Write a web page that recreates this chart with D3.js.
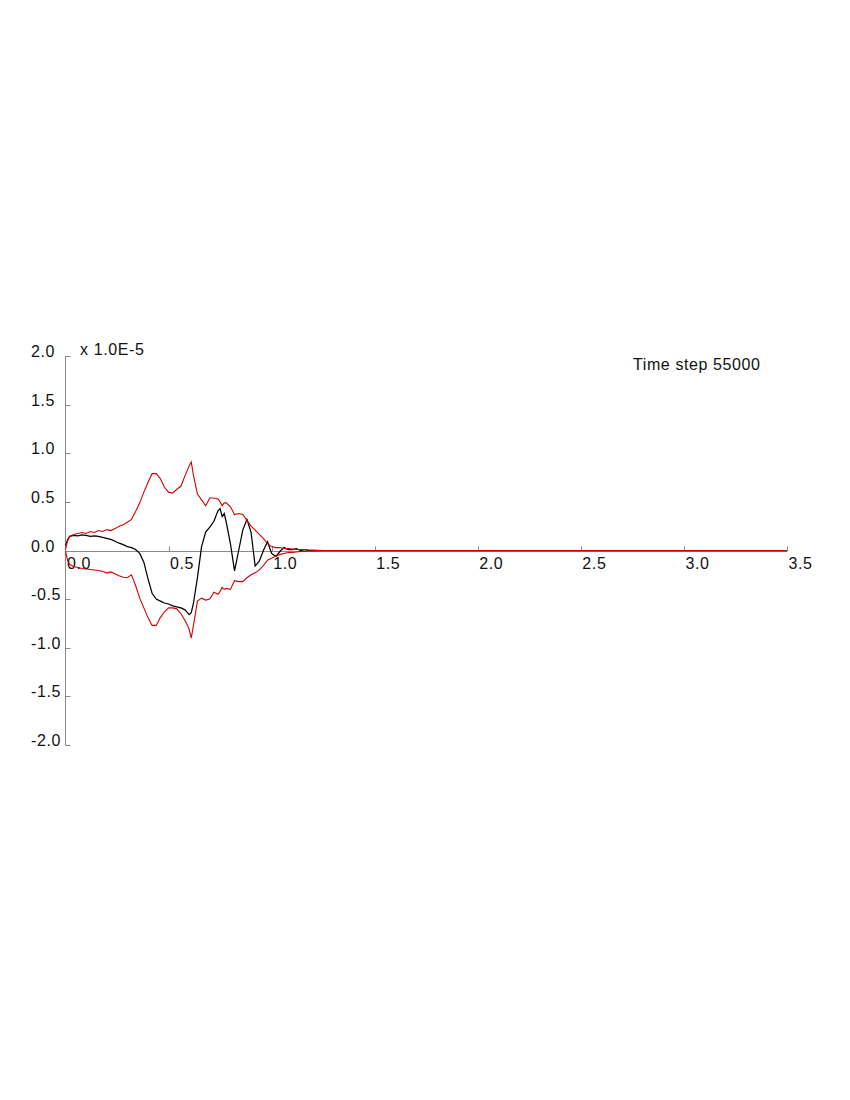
<!DOCTYPE html>
<html>
<head>
<meta charset="utf-8">
<script src="https://cdn.jsdelivr.net/npm/d3@7"></script>
<style>
  html, body { margin: 0; padding: 0; background: #fff; }
  svg { display: block; }
  text { font-family: "Liberation Sans", Arial, sans-serif; font-size: 16px; fill: #111; letter-spacing: 0.6px; }
</style>
</head>
<body>
<svg id="chart" width="850" height="1100"></svg>
<script>
// ---- data (values in units of 1.0E-5) ----
const xValues = [0.00, 0.01, 0.02, 0.04, 0.06, 0.08, 0.10, 0.12, 0.14, 0.16, 0.18, 0.20,
  0.22, 0.24, 0.26, 0.28, 0.30, 0.32, 0.34, 0.36, 0.38, 0.40, 0.42, 0.44, 0.46, 0.48,
  0.50, 0.52, 0.54, 0.56, 0.58, 0.60, 0.61, 0.62, 0.64, 0.66, 0.68, 0.70, 0.72, 0.74,
  0.75, 0.76, 0.77, 0.78, 0.80, 0.82, 0.84, 0.86, 0.88, 0.90, 0.92, 0.94, 0.96, 0.98,
  1.00, 1.02, 1.04, 1.06, 1.08, 1.10, 1.12, 1.14, 1.16, 1.18, 1.20, 1.25, 3.50];

const waveValues = [0.05, 0.11, 0.145, 0.155, 0.15, 0.16, 0.155, 0.145, 0.15, 0.145, 0.135, 0.125,
  0.115, 0.095, 0.075, 0.06, 0.04, 0.03, 0.01, -0.03, -0.12, -0.29, -0.44, -0.50, -0.52, -0.54,
  -0.55, -0.57, -0.58, -0.59, -0.61, -0.66, -0.64, -0.55, -0.28, 0.04, 0.19, 0.24, 0.30, 0.41,
  0.43, 0.35, 0.38, 0.29, 0.07, -0.21, 0.00, 0.21, 0.32, 0.19, -0.16, -0.11, 0.00, 0.09,
  -0.03, -0.06, -0.01, 0.03, 0.01, 0.01, 0.02, 0.00, 0.01, 0.00, 0.00, 0.00, 0.00];

const upperValues = [0.01, 0.10, 0.145, 0.165, 0.175, 0.185, 0.175, 0.195, 0.185, 0.205, 0.195, 0.215,
  0.205, 0.225, 0.25, 0.265, 0.29, 0.32, 0.40, 0.49, 0.60, 0.70, 0.79, 0.79, 0.74, 0.65,
  0.60, 0.59, 0.63, 0.66, 0.77, 0.87, 0.91, 0.78, 0.58, 0.52, 0.46, 0.54, 0.54, 0.53,
  0.50, 0.46, 0.49, 0.49, 0.45, 0.37, 0.38, 0.37, 0.31, 0.25, 0.21, 0.165, 0.125, 0.07,
  0.04, 0.03, 0.03, 0.02, 0.02, 0.015, 0.01, 0.01, 0.01, 0.005, 0.004, 0.00, 0.00];

const lowerValues = [-0.01, -0.10, -0.145, -0.165, -0.175, -0.185, -0.19, -0.195, -0.20, -0.205, -0.215, -0.23,
  -0.22, -0.24, -0.26, -0.275, -0.28, -0.25, -0.36, -0.49, -0.59, -0.69, -0.77, -0.77, -0.69, -0.63,
  -0.59, -0.59, -0.60, -0.65, -0.72, -0.81, -0.90, -0.78, -0.52, -0.49, -0.51, -0.50, -0.43, -0.45,
  -0.42, -0.38, -0.40, -0.39, -0.40, -0.31, -0.32, -0.32, -0.28, -0.25, -0.23, -0.20, -0.155, -0.10,
  -0.08, -0.06, -0.04, -0.03, -0.02, -0.02, -0.015, -0.01, -0.01, -0.005, -0.004, 0.00, 0.00];

const xTicks = [0.0, 0.5, 1.0, 1.5, 2.0, 2.5, 3.0, 3.5];
const yTicks = [-2.0, -1.5, -1.0, -0.5, 0.0, 0.5, 1.0, 1.5, 2.0];
const scaleLabel = "x 1.0E-5";
const titleText = "Time step 55000";

// ---- drawing ----
const svg = d3.select("#chart");
const x = d3.scaleLinear().domain([0, 3.5]).range([65.5, 787]);
const y = d3.scaleLinear().domain([-2, 2]).range([745, 356]);
const axisColor = "#8a8a8a";

// y axis line + ticks (ticks point right)
svg.append("line")
  .attr("x1", x(0)).attr("x2", x(0))
  .attr("y1", y(2)).attr("y2", y(-2))
  .attr("stroke", axisColor).attr("stroke-width", 1);
svg.selectAll(".ytick").data(yTicks).enter().append("line")
  .attr("x1", x(0)).attr("x2", x(0) + 5)
  .attr("y1", d => Math.round(y(d)) + 0.5).attr("y2", d => Math.round(y(d)) + 0.5)
  .attr("stroke", axisColor);
svg.selectAll(".ylab").data(yTicks).enter().append("text")
  .attr("x", 31).attr("y", d => y(d) + 1)
  .text(d => d.toFixed(1));

// x axis along zero + ticks (pointing up)
const y0 = Math.round(y(0)) + 0.5;
svg.append("line")
  .attr("x1", x(0)).attr("x2", x(3.5))
  .attr("y1", y0).attr("y2", y0)
  .attr("stroke", axisColor).attr("stroke-width", 1);
svg.selectAll(".xtick").data(xTicks.filter(d => d > 0)).enter().append("line")
  .attr("x1", d => Math.round(x(d)) + 0.5).attr("x2", d => Math.round(x(d)) + 0.5)
  .attr("y1", y0).attr("y2", y0 - 5)
  .attr("stroke", axisColor);
svg.selectAll(".xlab").data(xTicks).enter().append("text")
  .attr("x", d => x(d) + 1.5).attr("y", y0 + 17)
  .text(d => d.toFixed(1));

svg.append("text").attr("x", 80).attr("y", 355).text(scaleLabel);
svg.append("text").attr("x", 633).attr("y", 370).text(titleText);

// curves: black wave first, red envelopes on top
const pts = vals => xValues.map((xv, i) => [xv, vals[i]]);
const line = d3.line().x(d => x(d[0])).y(d => y(d[1]));

svg.append("path").attr("d", line(pts(waveValues)))
  .attr("fill", "none").attr("stroke", "#000").attr("stroke-width", 1.25);
svg.append("path").attr("d", line(pts(upperValues)))
  .attr("fill", "none").attr("stroke", "#d40000").attr("stroke-width", 1.1);
svg.append("path").attr("d", line(pts(lowerValues)))
  .attr("fill", "none").attr("stroke", "#d40000").attr("stroke-width", 1.1);
</script>
</body>
</html>
